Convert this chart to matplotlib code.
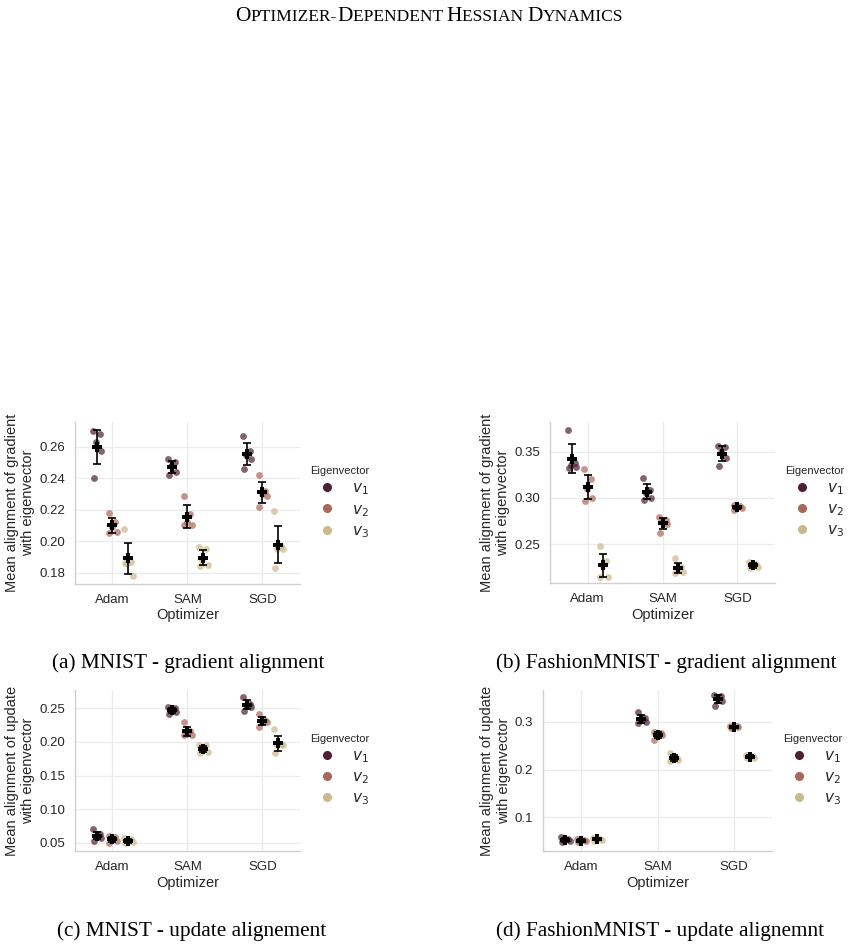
"""Alignment of gradient / update with top Hessian eigenvectors, per optimizer.

Four panels (MNIST / FashionMNIST x gradient / update), each a strip of
per-seed values plus the mean with a +-std error bar, hue = eigenvector.
Laid out like the paper page: running header, blank space, 2x2 subfigures.
"""

import matplotlib

matplotlib.use("Agg")
import matplotlib.pyplot as plt
import numpy as np
from matplotlib.lines import Line2D
from matplotlib.ticker import FormatStrFormatter

W, H = 854, 949

optimizers = ["Adam", "SAM", "SGD"]
eigvecs = ["$v_1$", "$v_2$", "$v_3$"]
colors = ["#4f1f35", "#a8675a", "#c9b98c"]

# per-seed values, [v1, v2, v3] for each optimizer
mnist_grad_adam = [[0.270, 0.268, 0.263, 0.257, 0.240],
                   [0.218, 0.212, 0.209, 0.206, 0.205],
                   [0.208, 0.187, 0.186, 0.178, 0.186]]
mnist_grad_sam = [[0.252, 0.250, 0.248, 0.244, 0.242],
                  [0.229, 0.217, 0.212, 0.210, 0.210],
                  [0.196, 0.195, 0.188, 0.185, 0.184]]
mnist_grad_sgd = [[0.267, 0.257, 0.255, 0.252, 0.246],
                  [0.242, 0.232, 0.230, 0.229, 0.222],
                  [0.219, 0.197, 0.195, 0.195, 0.183]]

fmnist_grad_adam = [[0.373, 0.338, 0.336, 0.333, 0.332],
                    [0.331, 0.320, 0.310, 0.300, 0.297],
                    [0.248, 0.232, 0.226, 0.215, 0.214]]
fmnist_grad_sam = [[0.321, 0.308, 0.305, 0.300, 0.298],
                   [0.279, 0.276, 0.274, 0.272, 0.262],
                   [0.235, 0.225, 0.222, 0.220, 0.219]]
fmnist_grad_sgd = [[0.356, 0.355, 0.350, 0.343, 0.334],
                   [0.292, 0.291, 0.290, 0.289, 0.287],
                   [0.231, 0.229, 0.227, 0.225, 0.224]]

mnist_upd_adam = [[0.070, 0.063, 0.060, 0.057, 0.053],
                  [0.060, 0.058, 0.055, 0.052, 0.050],
                  [0.057, 0.055, 0.053, 0.051, 0.049]]
mnist_upd_sam = mnist_grad_sam
mnist_upd_sgd = mnist_grad_sgd

fmnist_upd_adam = [[0.058, 0.055, 0.053, 0.050, 0.048],
                   [0.055, 0.053, 0.051, 0.050, 0.048],
                   [0.057, 0.055, 0.054, 0.052, 0.051]]
fmnist_upd_sam = fmnist_grad_sam
fmnist_upd_sgd = fmnist_grad_sgd

# fixed horizontal jitter for the strip points (5 seeds)
JITTER = [-0.05, 0.04, -0.01, 0.06, -0.04]
DODGE = 0.21

plt.rcParams.update({
    "font.family": ["Liberation Sans", "DejaVu Sans"],
    "mathtext.fontset": "dejavusans",
    "axes.edgecolor": "#d0d0d0",
    "axes.linewidth": 1.0,
    "text.color": "#262626",
    "axes.labelcolor": "#262626",
    "xtick.color": "#262626",
    "ytick.color": "#262626",
})


def px_rect(l, t, r, b):
    return [l / W, 1 - b / H, (r - l) / W, (b - t) / H]


def panel(fig, rect, groups, ylim, yticks, ylabel, legend_x):
    ax = fig.add_axes(px_rect(*rect))
    for i, per_hue in enumerate(groups):
        for j, vals in enumerate(per_hue):
            vals = np.asarray(vals)
            xc = i + (j - 1) * DODGE
            ax.scatter(xc + np.array(JITTER[:len(vals)]), vals, s=24,
                       color=colors[j], alpha=0.7, linewidths=0, zorder=3)
            m, sd = vals.mean(), vals.std()
            ax.errorbar(xc, m, yerr=sd, fmt="none", ecolor="black",
                        elinewidth=1.2, capsize=3.2, capthick=1.2, zorder=4)
            ax.plot(xc, m, marker="P", ms=6.5, color="black", mew=0, zorder=5)
    ax.set_xlim(-0.5, 2.5)
    ax.set_ylim(*ylim)
    ax.set_xticks(range(3))
    ax.set_xticklabels(optimizers)
    ax.set_yticks(yticks)
    ax.tick_params(length=0, labelsize=9.5, pad=7)
    ax.grid(True, color="#ebebeb", lw=0.9)
    ax.set_axisbelow(True)
    for s in ("top", "right"):
        ax.spines[s].set_visible(False)
    ax.set_xlabel("Optimizer", fontsize=10.5, labelpad=2)
    ax.set_ylabel(ylabel, fontsize=10.5, labelpad=3)

    handles = [Line2D([], [], ls="", marker="o", ms=5.5, color=c) for c in colors]
    leg = ax.legend(handles, eigvecs, title="Eigenvector", frameon=False,
                    loc="center left", bbox_to_anchor=(legend_x, 0.5),
                    fontsize=11, title_fontsize=8, handletextpad=0.6,
                    labelspacing=0.35, borderaxespad=0)
    leg._legend_box.align = "center"
    return ax


fig = plt.figure(figsize=(W / 100, H / 100), dpi=100)

panel(fig, (75, 422, 300, 584),
      [mnist_grad_adam, mnist_grad_sam, mnist_grad_sgd],
      (0.1728, 0.2757), [0.18, 0.20, 0.22, 0.24, 0.26],
      "Mean alignment of gradient\nwith eigenvector", 1.02)
panel(fig, (550, 422, 775, 583),
      [fmnist_grad_adam, fmnist_grad_sam, fmnist_grad_sgd],
      (0.208, 0.382), [0.25, 0.30, 0.35],
      "Mean alignment of gradient\nwith eigenvector", 1.02)
panel(fig, (75, 690, 300, 851),
      [mnist_upd_adam, mnist_upd_sam, mnist_upd_sgd],
      (0.0376, 0.2773), [0.05, 0.10, 0.15, 0.20, 0.25],
      "Mean alignment of update\nwith eigenvector", 1.02)
ax_d = panel(fig, (543, 690, 772, 851),
             [fmnist_upd_adam, fmnist_upd_sam, fmnist_upd_sgd],
             (0.0294, 0.367), [0.1, 0.2, 0.3],
             "Mean alignment of update\nwith eigenvector", 1.02)
ax_d.yaxis.set_major_formatter(FormatStrFormatter("%.1f"))

# subfigure captions
serif = ["Liberation Serif", "DejaVu Serif"]
captions = [("(a) MNIST - gradient alignment", 188, 663),
            ("(b) FashionMNIST - gradient alignment", 666, 663),
            ("(c) MNIST - update alignement", 192, 931),
            ("(d) FashionMNIST - update alignemnt", 660, 931)]
for txt, x, y in captions:
    fig.text(x / W, 1 - y / H, txt, family=serif, fontsize=15.3, color="black",
             ha="center", va="center")

# small-caps running header, assembled from pieces
BIG, SMALL = 15.4, 12.5
pieces = [("O", BIG), ("PTIMIZER-", SMALL), ("D", BIG), ("EPENDENT ", SMALL),
          ("H", BIG), ("ESSIAN ", SMALL), ("D", BIG), ("YNAMICS", SMALL)]
renderer = fig.canvas.get_renderer()
arts = []
for s, size in pieces:
    t = fig.text(0, 1 - 21 / H, s, family=serif, fontsize=size, color="black",
                 ha="left", va="baseline")
    arts.append(t)
widths = [a.get_window_extent(renderer).width for a in arts]
x = 429.5 - sum(widths) / 2
for a, w in zip(arts, widths):
    a.set_x(x / W)
    x += w

fig.savefig("out.png", dpi=100)
